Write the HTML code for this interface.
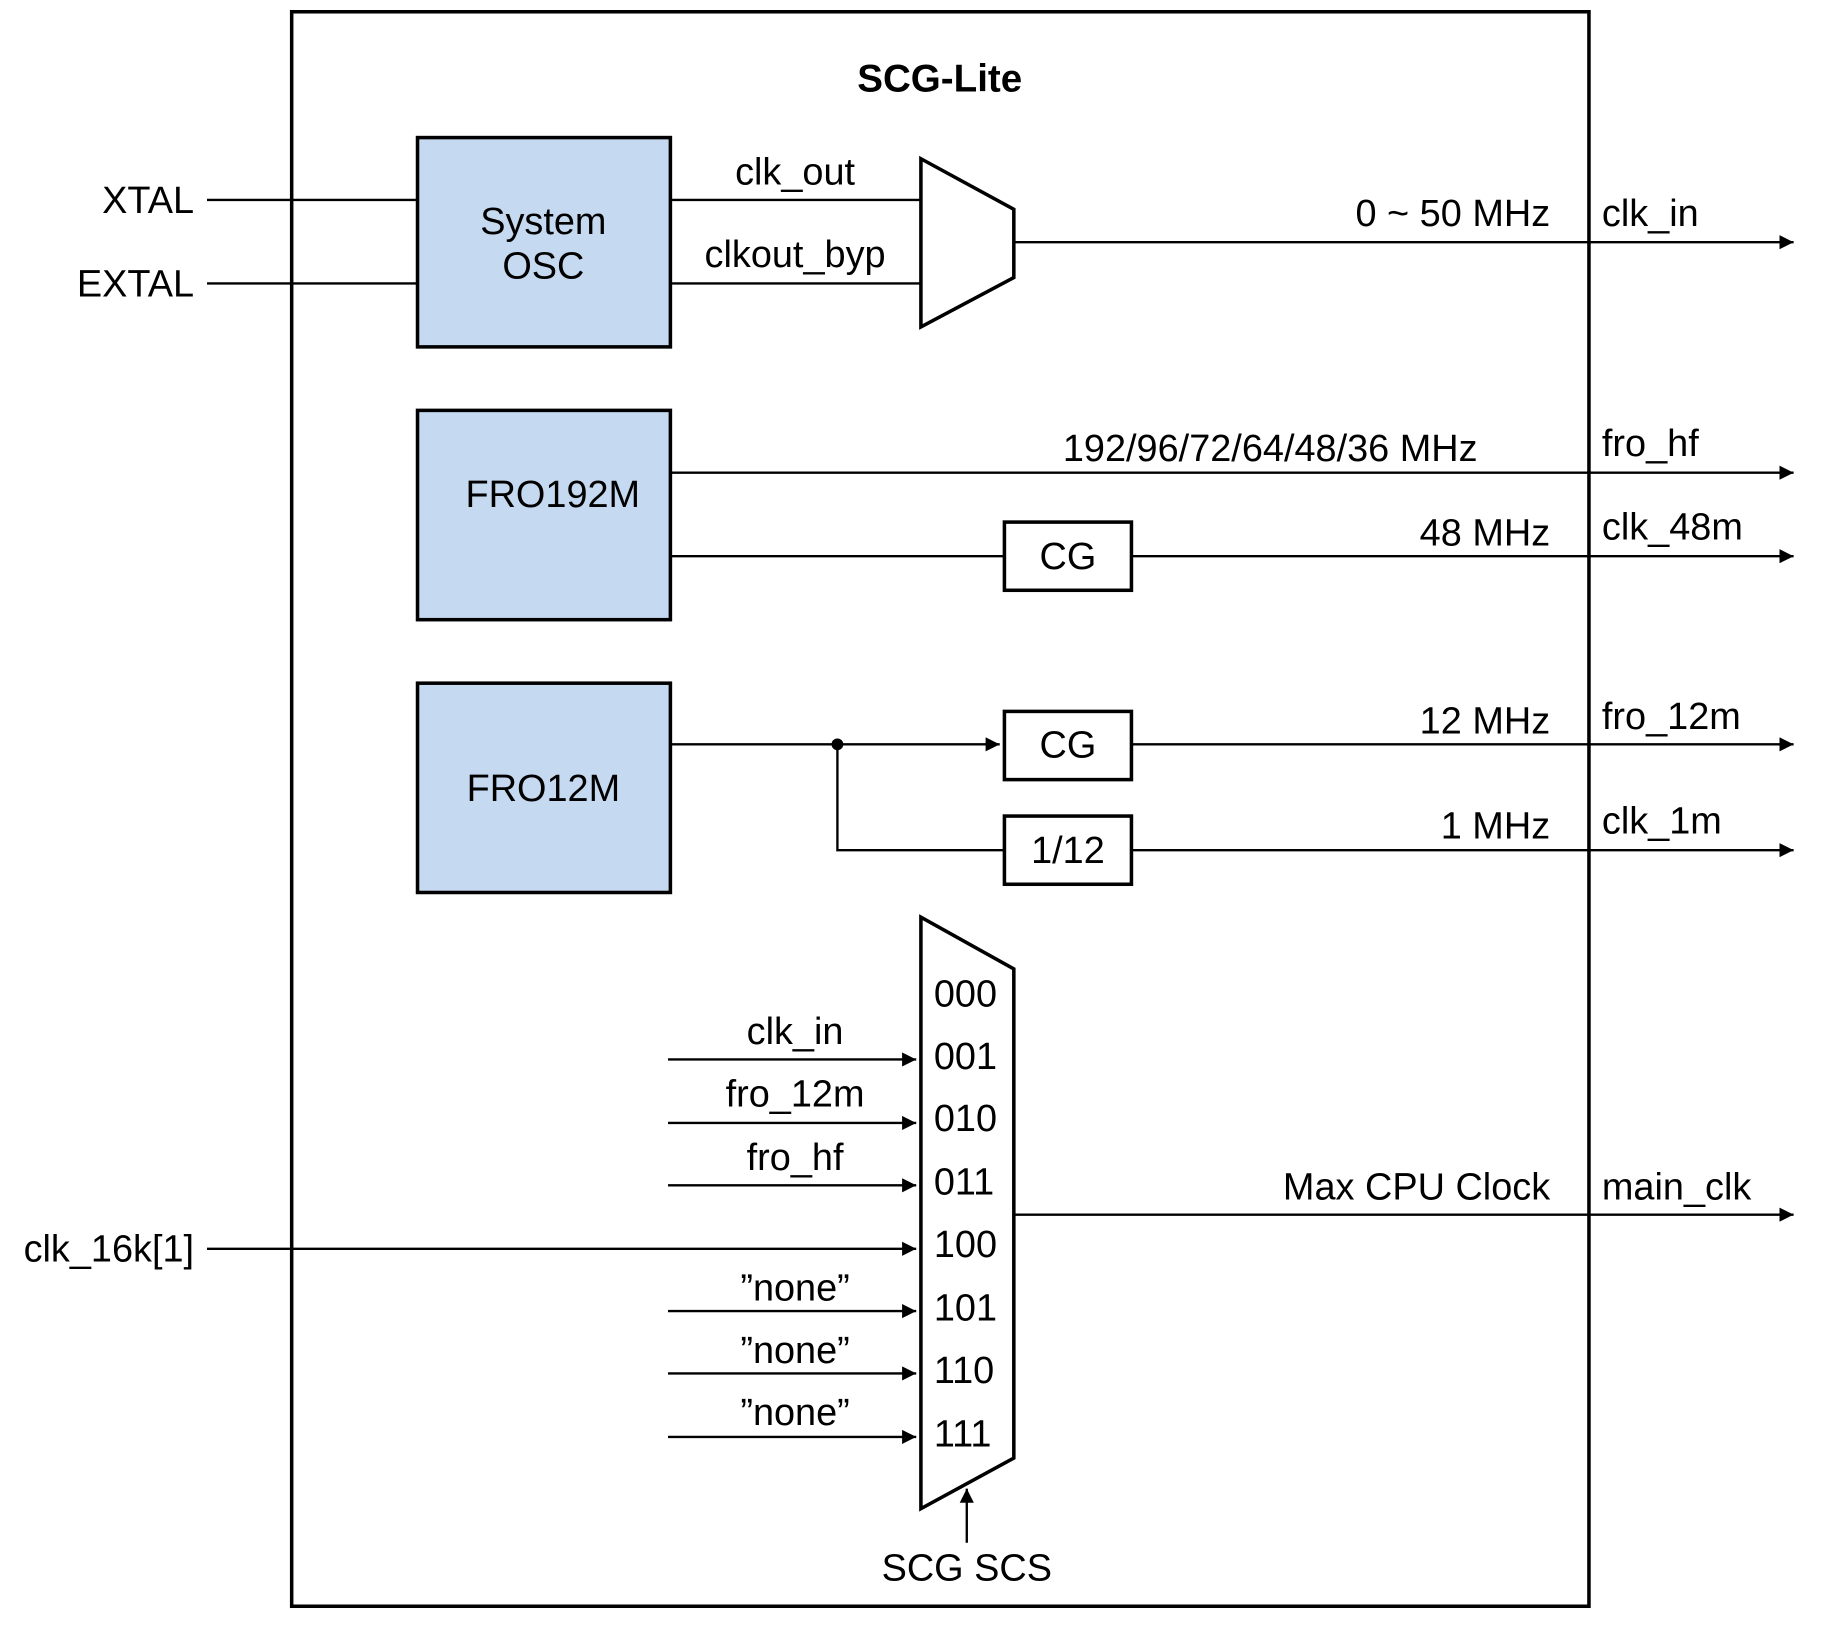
<!DOCTYPE html>
<html><head><meta charset="utf-8"><style>html,body{margin:0;padding:0;background:#fff}svg{display:block}</style></head>
<body>
<svg width="1843" height="1638" viewBox="0 0 1567 1393" preserveAspectRatio="none" xmlns="http://www.w3.org/2000/svg" font-family="Liberation Sans, Arial, sans-serif" font-size="32.2" fill="#000">
<defs><marker id="a" viewBox="0 0 10 10" refX="10" refY="5" markerWidth="14" markerHeight="12" markerUnits="userSpaceOnUse" orient="auto"><path d="M0,0L10,5L0,10z" fill="#000"/></marker></defs>
<g stroke="#000" fill="none">
<rect x="248" y="10" width="1103" height="1356" stroke-width="3"/>
<rect x="355" y="117" width="215" height="178" fill="#c5d9f0" stroke-width="3"/>
<rect x="355" y="349" width="215" height="178" fill="#c5d9f0" stroke-width="3"/>
<rect x="355" y="581" width="215" height="178" fill="#c5d9f0" stroke-width="3"/>
<rect x="854" y="444" width="108" height="58" stroke-width="3"/>
<rect x="854" y="605" width="108" height="58" stroke-width="3"/>
<rect x="854" y="694" width="108" height="58" stroke-width="3"/>
<polygon points="783,135 862,178 862,236 783,278" stroke-width="3"/>
<polygon points="783,780 862,824 862,1240 783,1283" stroke-width="3"/>
<g stroke-width="2">
<line x1="176" y1="170" x2="355" y2="170"/>
<line x1="176" y1="241" x2="355" y2="241"/>
<line x1="570" y1="170" x2="783" y2="170"/>
<line x1="570" y1="241" x2="783" y2="241"/>
<line x1="862" y1="206" x2="1525" y2="206" marker-end="url(#a)"/>
<line x1="570" y1="402" x2="1525" y2="402" marker-end="url(#a)"/>
<line x1="570" y1="473" x2="854" y2="473"/>
<line x1="962" y1="473" x2="1525" y2="473" marker-end="url(#a)"/>
<line x1="570" y1="633" x2="850" y2="633" marker-end="url(#a)"/>
<line x1="962" y1="633" x2="1525" y2="633" marker-end="url(#a)"/>
<polyline points="712,633 712,723 854,723"/>
<line x1="962" y1="723" x2="1525" y2="723" marker-end="url(#a)"/>
<line x1="568" y1="901" x2="779" y2="901" marker-end="url(#a)"/>
<line x1="568" y1="955" x2="779" y2="955" marker-end="url(#a)"/>
<line x1="568" y1="1008" x2="779" y2="1008" marker-end="url(#a)"/>
<line x1="176" y1="1062" x2="779" y2="1062" marker-end="url(#a)"/>
<line x1="568" y1="1115" x2="779" y2="1115" marker-end="url(#a)"/>
<line x1="568" y1="1168" x2="779" y2="1168" marker-end="url(#a)"/>
<line x1="568" y1="1222" x2="779" y2="1222" marker-end="url(#a)"/>
<line x1="862" y1="1033" x2="1525" y2="1033" marker-end="url(#a)"/>
<line x1="822" y1="1312" x2="822" y2="1266" marker-end="url(#a)"/>
</g></g>
<circle cx="712" cy="633" r="5"/>
<text x="799" y="78" text-anchor="middle" font-weight="bold" font-size="32.8">SCG-Lite</text>
<g text-anchor="end"><text x="165" y="181">XTAL</text><text x="165" y="252">EXTAL</text><text x="165" y="1073">clk_16k[1]</text>
<text x="1318" y="192">0 ~ 50 MHz</text><text x="1318" y="464">48 MHz</text><text x="1318" y="624">12 MHz</text><text x="1318" y="713">1 MHz</text><text x="1318" y="1020">Max CPU Clock</text></g>
<g text-anchor="middle"><text x="462" y="199">System</text><text x="462" y="237">OSC</text><text x="470" y="431">FRO192M</text><text x="462" y="681">FRO12M</text>
<text x="676" y="157">clk_out</text><text x="676" y="227">clkout_byp</text><text x="1080" y="392">192/96/72/64/48/36 MHz</text>
<text x="908" y="484">CG</text><text x="908" y="644">CG</text><text x="908" y="734">1/12</text>
<text x="676" y="888">clk_in</text><text x="676" y="941">fro_12m</text><text x="676" y="995">fro_hf</text><text x="676" y="1106">”none”</text><text x="676" y="1159">”none”</text><text x="676" y="1212">”none”</text>
<text x="822" y="1344">SCG SCS</text></g>
<text x="1362" y="192">clk_in</text><text x="1362" y="388">fro_hf</text><text x="1362" y="459">clk_48m</text><text x="1362" y="620">fro_12m</text><text x="1362" y="709">clk_1m</text><text x="1362" y="1020">main_clk</text>
<g><text x="794" y="856">000</text><text x="794" y="909">001</text><text x="794" y="962">010</text><text x="794" y="1016">011</text><text x="794" y="1069">100</text><text x="794" y="1123">101</text><text x="794" y="1176">110</text><text x="794" y="1230">111</text></g>
</svg>
</body></html>
